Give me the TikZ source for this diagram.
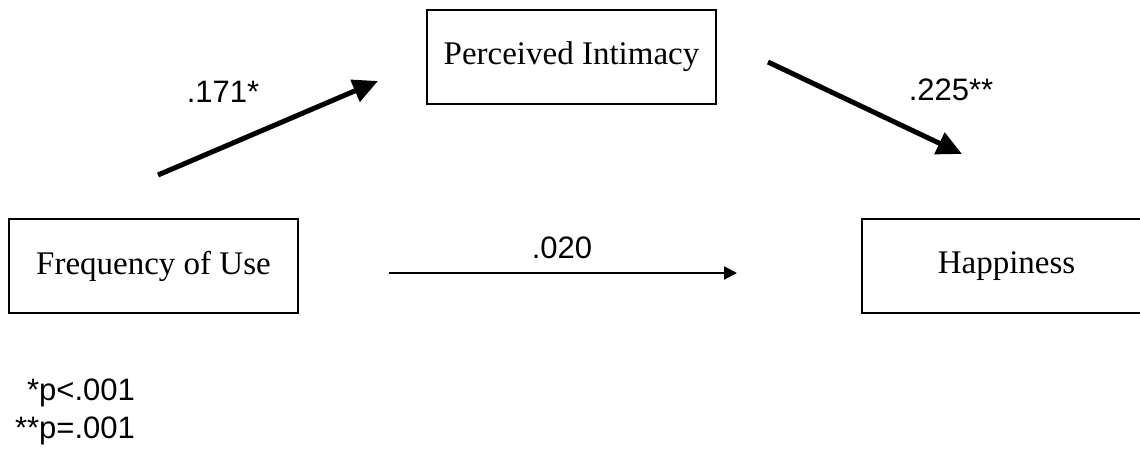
\documentclass[tikz,border=0pt]{standalone}
\usepackage{fontspec}
\setmainfont{Liberation Serif}
\newfontfamily\labelfont{Liberation Sans}
\usetikzlibrary{arrows.meta}
\tikzset{
  varbox/.style={draw, line width=1.3pt, minimum width=289pt, minimum height=94pt,
    inner sep=0pt, font=\fontsize{33}{40}\selectfont},
  coef/.style={font=\labelfont\fontsize{31}{37}\selectfont, inner sep=0pt},
  bigpath/.style={line width=5pt, -{Triangle[length=25pt,width=23pt]}},
  thinpath/.style={line width=2.2pt, -{Triangle[length=13pt,width=13pt]}}
}
\begin{document}
\begin{tikzpicture}[x=1pt,y=-1pt]
  \useasboundingbox (0,0) rectangle (1140,449);
  \clip (0,0) rectangle (1140,449);

  % variables
  \node[varbox] (freq) at (153.5,266) {Frequency of Use};
  \node[varbox] (intim) at (571.5,57) {Perceived Intimacy};
  \node[varbox] (happy) at (1006.5,266) {Happiness};

  % free ends of the paths
  \coordinate (a1) at (158,175);
  \coordinate (a2) at (378,81);
  \coordinate (b1) at (768,62);
  \coordinate (b2) at (962,154);
  \coordinate (c1) at (389,273);
  \coordinate (c2) at (737,273);

  \draw[bigpath] (a1) -- (a2);
  \draw[bigpath] (b1) -- (b2);
  \draw[thinpath] (c1) -- (c2);

  % coefficients
  \node[coef] (ca) at (223,92) {.171*};
  \node[coef] (cb) at (951,90) {.225**};
  \node[coef] (cc) at (562,248) {.020};

  % significance note
  \node[coef, align=right, font=\labelfont\fontsize{31}{38}\selectfont] (note) at (75,412) {*p<.001\\**p=.001};
\end{tikzpicture}
\end{document}
